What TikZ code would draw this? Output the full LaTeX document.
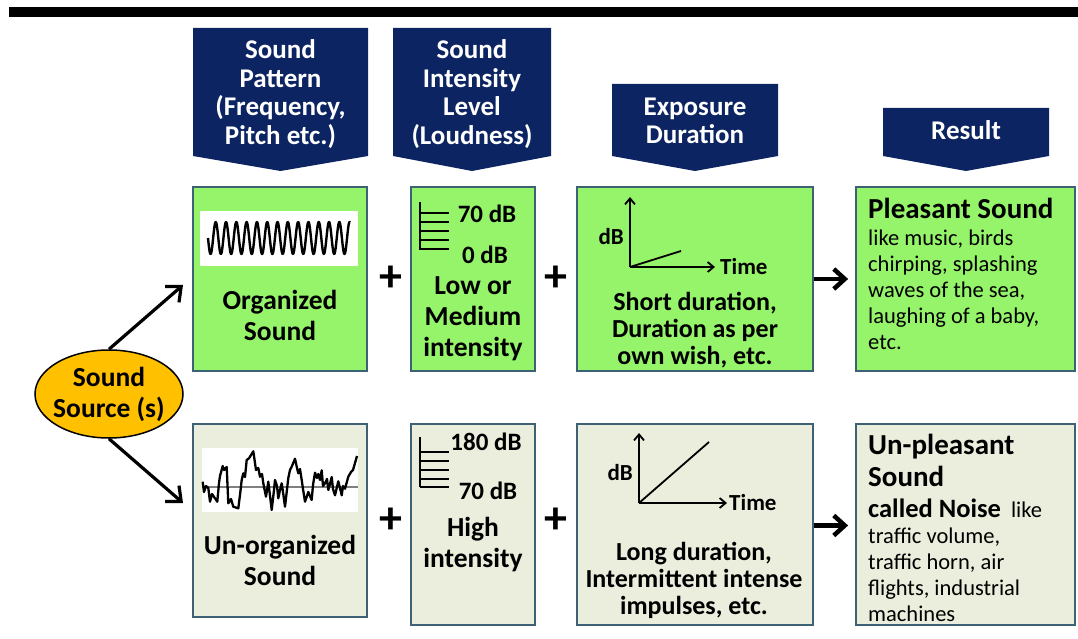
\documentclass[tikz,border=0pt]{standalone}
\usepackage{fontspec}
\setmainfont{Carlito}
\usepackage{tikz}
\usetikzlibrary{arrows.meta,shapes.geometric}
\definecolor{hdNavy}{HTML}{0C2461}
\definecolor{goodGreen}{HTML}{96F46A}
\definecolor{noiseGrey}{HTML}{EBEEDC}
\definecolor{boxLine}{HTML}{3E6275}
\definecolor{srcGold}{HTML}{FFC000}
\definecolor{midGrey}{HTML}{808080}
\tikzset{
  goodbox/.style={rectangle, draw=boxLine, fill=goodGreen, line width=1.8pt, inner sep=0pt},
  noisebox/.style={rectangle, draw=boxLine, fill=noiseGrey, line width=1.8pt, inner sep=0pt},
  headtext/.style={font=\fontsize{27}{28.5}\selectfont\bfseries, text=white, align=center, inner sep=0pt},
  boxtext/.style={font=\fontsize{27.5}{31}\selectfont\bfseries, align=center, inner sep=0pt},
  durtext/.style={font=\fontsize{26}{27}\selectfont\bfseries, align=center, inner sep=0pt},
  dbtext/.style={font=\fontsize{25}{27}\selectfont\bfseries, inner sep=0pt},
  smalltext/.style={font=\fontsize{23}{27}\selectfont\bfseries, inner sep=0pt},
  restext/.style={font=\fontsize{22.5}{25.8}\selectfont, align=left, anchor=north west, inner sep=0pt},
  plussign/.style={font=\fontsize{46}{46}\selectfont\bfseries, inner sep=0pt},
  srcarrow/.style={-{Straight Barb[length=12pt,width=21pt]}, line width=3.2pt},
  nextarrow/.style={-{Straight Barb[length=11pt,width=20pt]}, line width=4.5pt},
  axisarrow/.style={-{Straight Barb[length=6pt,width=10pt]}, line width=1.8pt},
}
\begin{document}
\begin{tikzpicture}[x=1pt,y=-1pt]
  \useasboundingbox (0,0) rectangle (1078,639);
  \fill (9,7) rectangle (1078,17);
  % --- column headers ---
  \fill[hdNavy] (193,28) -- (368,28) -- (368,156) -- (280.5,171) -- (193,156) -- cycle;
  \fill[hdNavy] (393,28) -- (551,28) -- (551,156) -- (472,171) -- (393,156) -- cycle;
  \fill[hdNavy] (612,84) -- (778,84) -- (778,156) -- (695,171) -- (612,156) -- cycle;
  \fill[hdNavy] (883,108) -- (1049,108) -- (1049,156) -- (966,171) -- (883,156) -- cycle;
  \node[headtext] (hdpat) at (280.5,94) {Sound\\Pattern\\(Frequency,\\Pitch etc.)};
  \node[headtext] (hdint) at (472,94) {Sound\\Intensity\\Level\\(Loudness)};
  \node[headtext] (hddur) at (695,121) {Exposure\\Duration};
  \node[headtext] (hdres) at (966,130) {Result};
  % --- pleasant row ---
  \node[goodbox, minimum width=174pt, minimum height=184pt] (patA) at (280,279) {};
  \node[goodbox, minimum width=124pt, minimum height=184pt] (intA) at (473,279) {};
  \node[goodbox, minimum width=236pt, minimum height=184pt] (durA) at (695,279) {};
  \node[goodbox, minimum width=219pt, minimum height=184pt] (resA) at (965.5,279) {};
  % --- noise row ---
  \node[noisebox, minimum width=174pt, minimum height=193pt] (patB) at (280,520.5) {};
  \node[noisebox, minimum width=124pt, minimum height=201pt] (intB) at (473,524.5) {};
  \node[noisebox, minimum width=236pt, minimum height=201pt] (durB) at (695,524.5) {};
  \node[noisebox, minimum width=219pt, minimum height=201pt] (resB) at (965.5,524.5) {};
  % --- wave pictures ---
  \fill[white] (200,211) rectangle (358,266);
  \draw[line width=2.4pt, line join=round] plot[domain=208:350, samples=400] (\x, {238+16*sin(34.95*(\x-208))});
  \fill[white] (202,448) rectangle (358,512);
  \draw[midGrey, line width=1.5pt] (202,487) -- (358,487);
  \draw[line width=2.3pt, line join=round] plot coordinates {(202.7,481.7) (204,492) (206,486) (208.3,488) (210,501.7) (212,494) (215,498.3) (217.3,501.7) (219,483) (220,476) (222.7,466) (224,470) (226.7,467) (228.3,503.3) (231,499) (233.3,506.7) (238.3,508.3) (240,495) (241.7,480) (243.3,473.3) (245,477) (246.7,460) (249,458.3) (253.3,451.3) (255,463) (256,470) (258.3,468) (260,476.7) (262,474) (263.3,483.3) (266,496.7) (268.3,481.7) (271.7,510) (274,490) (275,480) (277,486) (278.3,498.3) (280,490) (281.7,483.3) (283,492) (285,506.7) (288.3,478) (290,470) (291.7,466.7) (295,458.7) (297,468) (298.3,473.3) (300,469) (301.7,480) (303,489) (305,501.7) (307,496) (308.3,492) (311.7,500) (313,485) (315,472.7) (317,478) (318.3,474) (320,480) (321.7,470.3) (323,486) (325,483.3) (327,479) (328.3,490) (330,484) (331.7,477) (333,489) (335,495.3) (338.3,481.3) (340,488) (341.7,495.3) (343,486) (345,488.7) (348.3,476.7) (351,472) (353,470) (355,463) (357,456)};
  \node[boxtext] (orgtxt) at (280,315) {Organized\\Sound};
  \node[boxtext] (unorgtxt) at (280,560) {Un-organized\\Sound};
  % --- loudness scales ---
  \draw[line width=1.8pt] (420,202) -- (420,250);
  \foreach \ty in {213,222,231,240,249}
    \draw[line width=1.8pt] (420,\ty) -- (449,\ty);
  \node[dbtext] (lvlAhi) at (487,214) {70 dB};
  \node[dbtext] (lvlAlo) at (485,255) {0 dB};
  \node[boxtext] (loudA) at (473,318.5) {Low or\\Medium\\intensity};
  \draw[line width=1.8pt] (420,437) -- (420,487);
  \foreach \ty in {452,461,470,479,487}
    \draw[line width=1.8pt] (420,\ty) -- (449,\ty);
  \node[dbtext] (lvlBhi) at (486,442) {180 dB};
  \node[dbtext] (lvlBlo) at (488,491) {70 dB};
  \node[boxtext] (loudB) at (473,544.5) {High\\intensity};
  % --- exposure graphs ---
  \draw[axisarrow] (630,267) -- (630,197);
  \draw[axisarrow] (630,267) -- (715,267);
  \draw[line width=1.8pt] (630,267) -- (681,251);
  \node[smalltext, anchor=east] (dbA) at (624,237) {dB};
  \node[smalltext, anchor=west] (timeA) at (720,267) {Time};
  \node[durtext] (durAtxt) at (695,330) {Short duration,\\Duration as per\\own wish, etc.};
  \draw[axisarrow] (639,503) -- (639,433);
  \draw[axisarrow] (639,503) -- (727,503);
  \draw[line width=1.8pt] (639,503) -- (709,442);
  \node[smalltext, anchor=east] (dbB) at (633,473) {dB};
  \node[smalltext, anchor=west] (timeB) at (729,503) {Time};
  \node[durtext] (durBtxt) at (694,580) {Long duration,\\Intermittent intense\\impulses, etc.};
  % --- results ---
  \node[restext] (resAtxt) at (868,198) {{\fontsize{29}{30}\selectfont\bfseries Pleasant Sound}\\[1.5pt]like music, birds\\chirping, splashing\\waves of the sea,\\laughing of a baby,\\etc.};
  \node[restext] (resBtxt) at (868,434) {{\fontsize{29}{32}\selectfont\bfseries Un-pleasant}\\[6pt]{\fontsize{29}{32}\selectfont\bfseries Sound}\\[5pt]{\fontsize{26.5}{28}\selectfont\bfseries called Noise}\ \ like\\[1pt]traffic volume,\\traffic horn, air\\flights, industrial\\machines};
  % --- source and connectors ---
  \node[ellipse, draw, fill=srcGold, line width=1.5pt, minimum width=148pt, minimum height=88pt, boxtext, inner sep=0pt, inner xsep=-5pt] (src) at (109,394) {Sound\\Source (s)};
  \coordinate (tipA) at (183,285);
  \coordinate (tipB) at (183,503);
  \draw[srcarrow] (src.north) -- (tipA);
  \draw[srcarrow] (src.south) -- (tipB);
  \node[plussign] (plusA1) at (391,279) {+};
  \node[plussign] (plusA2) at (556,279) {+};
  \node[plussign] (plusB1) at (391,521) {+};
  \node[plussign] (plusB2) at (556,521) {+};
  \draw[nextarrow] (durA.east) -- ([xshift=-7pt]resA.west);
  \draw[nextarrow] ([yshift=-1pt]durB.east) -- ([xshift=-7pt, yshift=-1pt]resB.west);
\end{tikzpicture}
\end{document}
